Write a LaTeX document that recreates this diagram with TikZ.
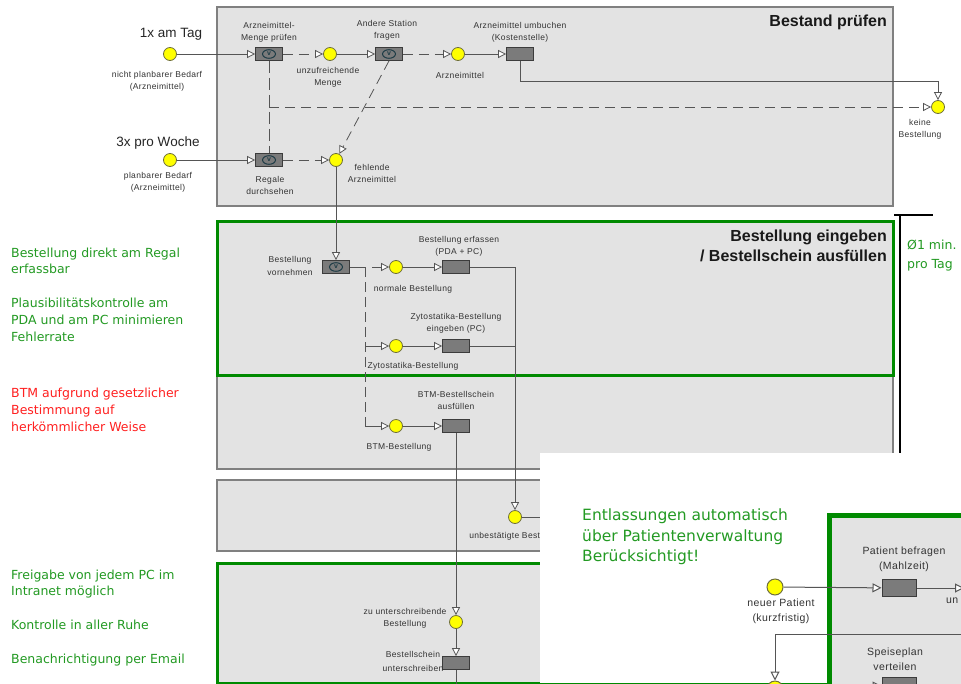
\documentclass[tikz,border=0pt]{standalone}
\usepackage{fontspec}
\usetikzlibrary{arrows.meta}
\setmainfont{Liberation Sans}
\newfontfamily\lblfont[LetterSpace=4]{Liberation Sans}
\newfontfamily\headfont{Liberation Sans}
\newfontfamily\notefont{DejaVu Sans}
\definecolor{laneGray}{HTML}{E3E3E3}
\definecolor{laneEdge}{HTML}{808080}
\definecolor{frameGreen}{HTML}{008A00}
\definecolor{noteGreen}{HTML}{239A23}
\definecolor{noteRed}{HTML}{FF2020}
\definecolor{evFill}{HTML}{FFFF00}
\definecolor{evEdge}{HTML}{6E6E3C}
\definecolor{fnFill}{HTML}{7B7B7B}
\definecolor{fnEdge}{HTML}{3C3C3C}
\definecolor{wire}{HTML}{555555}
\definecolor{lblText}{HTML}{333333}
\definecolor{vMark}{HTML}{1E3C46}

\begin{document}
\begin{tikzpicture}[x=1pt,y=-1pt,
  lane/.style={fill=laneGray,draw=laneEdge,line width=1.2pt},
  gframe/.style={draw=frameGreen,line width=3pt},
  ev/.style={circle,fill=evFill,draw=evEdge,line width=0.8pt,minimum size=13pt,inner sep=0pt},
  evbig/.style={ev,minimum size=16pt,line width=1pt},
  fn/.style={rectangle,fill=fnFill,draw=fnEdge,line width=0.8pt,minimum width=27pt,minimum height=13pt,inner sep=0pt},
  fnbig/.style={fn,minimum width=34pt,minimum height=17pt,line width=1pt},
  fnv/.style={fn,path picture={
      \draw[vMark,line width=1pt] (path picture bounding box.center) ellipse [x radius=6.5pt,y radius=4.3pt];
      \node[font=\headfont\bfseries\fontsize{7}{7}\selectfont,text=vMark,inner sep=0pt] at (path picture bounding box.center) {v};}},
  lbl/.style={font=\lblfont\fontsize{8.5}{12}\selectfont,text=lblText,align=center,inner sep=0pt},
  lblbig/.style={font=\lblfont\fontsize{10.5}{15}\selectfont,text=lblText,align=center,inner sep=0pt},
  big/.style={font=\headfont\fontsize{13.5}{16}\selectfont,text=black!85,inner sep=0pt},
  head/.style={font=\headfont\bfseries\fontsize{16}{19}\selectfont,text=black!90,inner sep=0pt,anchor=base east},
  note/.style={font=\notefont\fontsize{12.5}{16}\selectfont,text=noteGreen,align=left,anchor=north west,inner sep=0pt},
  link/.style={draw=wire,line width=0.8pt},
  flow/.style={link,-{Triangle[length=8pt,width=8pt,fill=white]}},
  flowbig/.style={draw=wire,line width=1pt,-{Triangle[length=9pt,width=9pt,fill=white]}},
  longdash/.style={dash pattern=on 10pt off 6pt},
  bracket/.style={draw=black,line width=2.7pt}]

\useasboundingbox (0,0) rectangle (961,683);
\fill[white] (0,0) rectangle (961,683);

% swim lanes
\draw[lane] (217,7) rectangle (893,206);
\draw[lane] (217,221) rectangle (893,469);
\draw[gframe] (217,221) rectangle (893,375);
\draw[lane] (217,480) rectangle (893,551);
\draw[lane,draw=frameGreen,line width=3pt] (217,563) rectangle (893,683);

% time bracket
\draw[bracket] (894,215) -- (933,215);
\draw[bracket] (900,215) -- (900,453);
\node[note,font=\notefont\fontsize{12.5}{19}\selectfont] (tday) at (907,240) {Ø1 min.\\pro Tag};

% lane titles
\node[head] (hd1) at (887,26) {Bestand prüfen};
\node[head] (hd2a) at (887,241) {Bestellung eingeben};
\node[head] (hd2b) at (887,261) {/ Bestellschein ausfüllen};

% --- Bestand pruefen ---
\node[ev] (e1) at (170,54) {};
\node[big] (t1x) at (171,34) {1x am Tag};
\node[lbl] (le1) at (157,81) {nicht planbarer Bedarf\\(Arzneimittel)};
\node[fnv] (f1) at (269,54) {};
\node[lbl] (lf1) at (269,32) {Arzneimittel-\\Menge prüfen};
\node[ev] (eunz) at (330,54) {};
\node[lbl] (leunz) at (328,77) {unzufreichende\\Menge};
\node[fnv] (f2) at (389,54) {};
\node[lbl] (lf2) at (387,30) {Andere Station\\fragen};
\node[ev] (earz) at (458,54) {};
\node[lbl] (learz) at (460,75) {Arzneimittel};
\node[fn] (f3) at (520,54) {};
\node[lbl] (lf3) at (520,32) {Arzneimittel umbuchen\\(Kostenstelle)};
\node[ev] (ekeine) at (938,107) {};
\node[lbl] (lekeine) at (920,129) {keine\\Bestellung};
\node[ev] (e2) at (170,160) {};
\node[big] (t3x) at (158,143) {3x pro Woche};
\node[lbl] (le2) at (158,182) {planbarer Bedarf\\(Arzneimittel)};
\node[fnv] (f4) at (269,160) {};
\node[lbl] (lf4) at (270,185) {Regale\\durchsehen};
\node[ev] (efehl) at (336,160) {};
\node[lbl] (lefehl) at (372,173) {fehlende\\Arzneimittel};

\coordinate (kturn) at (938,81);
\coordinate (kjoin) at (269,107);
\draw[flow] (e1) -- (f1);
\draw[flow,longdash] (f1) -- (eunz);
\draw[flow] (eunz) -- (f2);
\draw[flow,longdash] (f2) -- (earz);
\draw[flow] (earz) -- (f3);
\draw[flow] (f3.south) |- (kturn) -- (ekeine);
\draw[link,dash pattern=on 12pt off 5pt] (f1.south) -- (f4.north);
\draw[flow,longdash] (kjoin) -- (ekeine);
\draw[flow,longdash] (f2.south) -- (efehl);
\draw[flow] (e2) -- (f4);
\draw[flow,longdash] (f4) -- (efehl);

% --- Bestellung eingeben ---
\node[fnv] (f5) at (336,267) {};
\node[lbl,font=\lblfont\fontsize{8.5}{12.5}\selectfont] (lf5) at (290,266) {Bestellung\\vornehmen};
\draw[flow] (efehl) -- (f5);

\coordinate (jn) at (365,267);
\coordinate (jz) at (365,346);
\coordinate (jb) at (365,426);
\node[ev] (enorm) at (396,267) {};
\node[lbl] (lenorm) at (413,289) {normale Bestellung};
\node[ev] (ezyt) at (396,346) {};
\node[lbl] (lezyt) at (413,366) {Zytostatika-Bestellung};
\node[ev] (ebtm) at (396,426) {};
\node[lbl] (lebtm) at (399,447) {BTM-Bestellung};
\node[fn] (f6) at (456,267) {};
\node[lbl] (lf6) at (459,246) {Bestellung erfassen\\(PDA + PC)};
\node[fn] (f7) at (456,346) {};
\node[lbl] (lf7) at (456,323) {Zytostatika-Bestellung\\eingeben (PC)};
\node[fn] (f8) at (456,426) {};
\node[lbl] (lf8) at (456,400) {BTM-Bestellschein\\ausfüllen};

\draw[link] (f5) -- (jn);
\draw[link,dash pattern=on 10pt off 5pt] (jn) -- (jb);
\draw[flow,dash pattern=on 0pt off 7pt on 40pt] (jn) -- (enorm);
\draw[flow] (jz) -- (ezyt);
\draw[flow] (jb) -- (ebtm);
\draw[flow] (enorm) -- (f6);
\draw[flow] (ezyt) -- (f7);
\draw[flow] (ebtm) -- (f8);

% --- Freigabe ---
\node[ev] (eunb) at (515,517) {};
\node[lbl] (leunb) at (517,536) {unbestätigte Bestellung};
\coordinate (unbout) at (600,517);
\draw[flow] (f6.east) -| (eunb);
\draw[link] (f7.east) -- (f7 -| eunb);
\draw[link] (eunb) -- (unbout);

\node[ev] (ezu) at (456,622) {};
\node[lbl] (lezu) at (405,618) {zu unterschreibende\\Bestellung};
\node[fn] (f9) at (456,663) {};
\node[lbl,font=\lblfont\fontsize{8.5}{14}\selectfont] (lf9) at (413,661) {Bestellschein\\unterschreiben};
\coordinate (f9out) at (456,700);
\draw[flow] (f8) -- (ezu);
\draw[flow] (ezu) -- (f9);
\draw[link] (f9) -- (f9out);

% --- remarks ---
\node[note] (n1) at (11,248) {Bestellung direkt am Regal\\erfassbar};
\node[note,font=\notefont\fontsize{12.5}{17}\selectfont] (n2) at (11,298) {Plausibilitätskontrolle am\\PDA und am PC minimieren\\Fehlerrate};
\node[note,font=\notefont\fontsize{12.5}{17}\selectfont,text=noteRed] (n3) at (11,388) {BTM aufgrund gesetzlicher\\Bestimmung auf\\herkömmlicher Weise};
\node[note] (n4) at (11,570) {Freigabe von jedem PC im\\Intranet möglich};
\node[note] (n5) at (11,620) {Kontrolle in aller Ruhe};
\node[note] (n6) at (11,654) {Benachrichtigung per Email};

% --- second sheet laid over the lower right corner ---
\fill[white] (540,453) rectangle (961,683);
\draw[lane,draw=frameGreen,line width=4.5pt] (829.5,515.5) rectangle (990,720);
\node[note,font=\notefont\fontsize{15.5}{20.5}\selectfont] (n7) at (582,509) {Entlassungen automatisch\\über Patientenverwaltung\\Berücksichtigt!};

\node[evbig] (enp) at (775,587) {};
\node[lblbig] (lenp) at (781,611) {neuer Patient\\(kurzfristig)};
\node[fnbig] (fpb) at (899,588) {};
\node[lblbig] (lfpb) at (904,559) {Patient befragen\\(Mahlzeit)};
\node[lblbig,anchor=north west] (lun) at (946,598) {un};
\coordinate (pbout) at (964,588);
\draw[flowbig] (enp) -- (fpb);
\draw[flowbig] (fpb) -- (pbout);

\node[evbig] (esp) at (775,689) {};
\coordinate (spin) at (970,634);
\draw[flowbig] (spin) -| (esp);
\node[fnbig] (fsv) at (899,686) {};
\node[lblbig] (lfsv) at (895,659) {Speiseplan\\verteilen};
\coordinate (svin) at (862,686);
\draw[flowbig] (svin) -- (fsv);
\end{tikzpicture}
\end{document}
